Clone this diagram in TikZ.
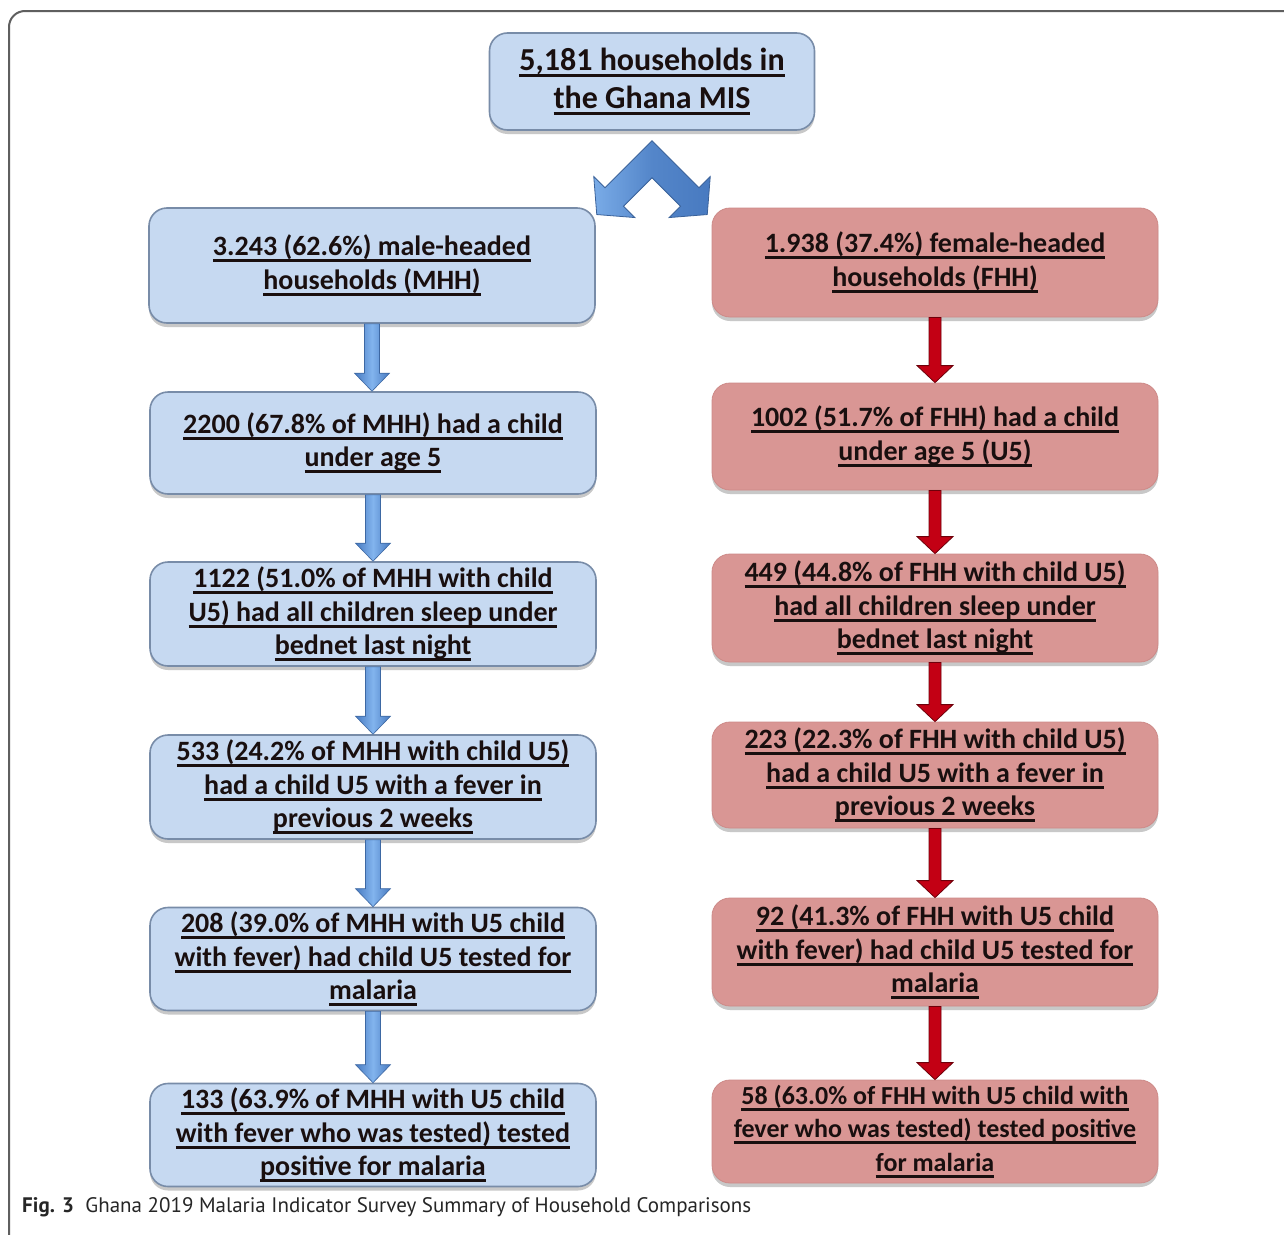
\documentclass[tikz,border=0pt]{standalone}
\usepackage{fontspec}
\setmainfont{Carlito}
\newfontfamily\capfont{PT Sans}
\usetikzlibrary{calc,shadows}
\definecolor{bfill}{RGB}{198,217,241}
\definecolor{bdraw}{RGB}{120,140,168}
\definecolor{rfill}{RGB}{217,150,148}
\definecolor{rdraw}{RGB}{205,138,136}
\definecolor{txt}{RGB}{25,15,15}
\definecolor{barrowA}{RGB}{72,122,192}
\definecolor{barrowB}{RGB}{130,180,238}
\definecolor{rarrow}{RGB}{195,0,20}
\definecolor{rarrowD}{RGB}{110,0,10}
\definecolor{framecol}{RGB}{95,95,95}
\newcommand\uln[1]{\setbox0\hbox{#1}\rlap{\vrule width\wd0 height -3.5pt depth 6.5pt}\box0}
\newcommand\fatarrow[6]{%
  \path[#6] let \p1=(#1.south), \p2=(#2.north) in
  (\x1-#3,\y1) -- (\x1+#3,\y1) -- (\x1+#3,\y2+#5) -- (\x1+#4,\y2+#5) -- (\x1,\y2)
  -- (\x1-#4,\y2+#5) -- (\x1-#3,\y2+#5) -- cycle;}
\tikzset{
  boxtext/.style={font=\bfseries\fontsize{28}{33.5}\selectfont, text=txt, align=center,
    rounded corners=18pt, inner sep=0pt, minimum width=446pt},
  bluebox/.style={boxtext, fill=bfill, draw=bdraw, line width=1.6pt,
    drop shadow={shadow xshift=0pt, shadow yshift=-4pt, opacity=0.3, fill=black!70}},
  redbox/.style={boxtext, fill=rfill, draw=rdraw, line width=0.8pt,
    drop shadow={shadow xshift=0pt, shadow yshift=-4pt, opacity=0.3, fill=black!70}},
  bluearrow/.style={left color=barrowA, right color=barrowA, middle color=barrowB,
    draw=barrowA!85!black, line width=0.6pt},
  redarrow/.style={fill=rarrow, draw=rarrowD, line width=0.8pt},
}
\begin{document}
\begin{tikzpicture}[x=1pt,y=-1pt]
\useasboundingbox (0,0) rectangle (1284,1234);
\fill[white] (0,0) rectangle (1284,1234);
\draw[framecol, line width=2pt, rounded corners=16pt] (1300,11) -- (9,11) -- (9,1250);

\node[bluebox, font=\bfseries\fontsize{32}{38}\selectfont, minimum width=325pt, minimum height=97pt]
  (top) at (652,81.5) {\uln{5,181 households in}\\\uln{the Ghana MIS}};

\node[bluebox, minimum height=115pt] (b1) at (372,265.5)
  {\uln{3.243 (62.6\%) male-headed}\\\uln{households (MHH)}};
\node[bluebox, minimum height=102pt] (b2) at (373,443)
  {\uln{2200 (67.8\% of MHH) had a child}\\\uln{under age 5}};
\node[bluebox, minimum height=104pt] (b3) at (373,614)
  {\uln{1122 (51.0\% of MHH with child}\\\uln{U5) had all children sleep under}\\\uln{bednet last night}};
\node[bluebox, minimum height=104pt] (b4) at (373,787)
  {\uln{533 (24.2\% of MHH with child U5)}\\\uln{had a child U5 with a fever in}\\\uln{previous 2 weeks}};
\node[bluebox, minimum height=103pt] (b5) at (373,959)
  {\uln{208 (39.0\% of MHH with U5 child}\\\uln{with fever) had child U5 tested for}\\\uln{malaria}};
\node[bluebox, minimum height=103pt] (b6) at (373,1135)
  {\uln{133 (63.9\% of MHH with U5 child}\\\uln{with fever who was tested) tested}\\\uln{positive for malaria}};

\node[redbox, minimum height=109pt] (r1) at (935,262.5)
  {\uln{1.938 (37.4\%) female-headed}\\\uln{households (FHH)}};
\node[redbox, minimum height=107pt] (r2) at (935,436.5)
  {\uln{1002 (51.7\% of FHH) had a child}\\\uln{under age 5 (U5)}};
\node[redbox, minimum height=108pt] (r3) at (935,608)
  {\uln{449 (44.8\% of FHH with child U5)}\\\uln{had all children sleep under}\\\uln{bednet last night}};
\node[redbox, minimum height=106pt] (r4) at (935,775)
  {\uln{223 (22.3\% of FHH with child U5)}\\\uln{had a child U5 with a fever in}\\\uln{previous 2 weeks}};
\node[redbox, minimum height=108pt] (r5) at (935,952)
  {\uln{92 (41.3\% of FHH with U5 child}\\\uln{with fever) had child U5 tested for}\\\uln{malaria}};
\node[redbox, minimum height=103pt, font=\bfseries\fontsize{26}{33.5}\selectfont] (r6) at (935,1131.5)
  {\uln{58 (63.0\% of FHH with U5 child with}\\\uln{fever who was tested) tested positive}\\\uln{for malaria}};

% split arrow from the top box
\begin{scope}[shift={(top.south)}]
\path[left color=barrowB!85!barrowA, right color=barrowA, middle color=barrowA!80!barrowB, draw=barrowA!80!black, line width=0.8pt]
  (0,10) -- (-47,57) -- (-58.25,45.75) -- (-55.25,83.75) -- (-17.25,86.75) -- (-28.5,75.5)
  -- (0,47) -- (28.5,75.5) -- (17.25,86.75) -- (55.25,83.75) -- (58.25,45.75) -- (47,57) -- cycle;
\end{scope}

\fatarrow{b1}{b2}{7.5pt}{17.5pt}{18pt}{bluearrow}
\fatarrow{b2}{b3}{7.5pt}{17.5pt}{18pt}{bluearrow}
\fatarrow{b3}{b4}{7.5pt}{17.5pt}{18pt}{bluearrow}
\fatarrow{b4}{b5}{7.5pt}{17.5pt}{18pt}{bluearrow}
\fatarrow{b5}{b6}{7.5pt}{17.5pt}{18pt}{bluearrow}

\fatarrow{r1}{r2}{6pt}{18pt}{17pt}{redarrow}
\fatarrow{r2}{r3}{6pt}{18pt}{17pt}{redarrow}
\fatarrow{r3}{r4}{6pt}{18pt}{17pt}{redarrow}
\fatarrow{r4}{r5}{6pt}{18pt}{17pt}{redarrow}
\fatarrow{r5}{r6}{6pt}{18pt}{17pt}{redarrow}

\node[anchor=base west, inner sep=0pt, font=\capfont\fontsize{21}{24}\selectfont, text=black!85]
  (cap) at (22,1212) {{\bfseries Fig. 3}\hspace{0.55em}Ghana 2019 Malaria Indicator Survey Summary of Household Comparisons};
\end{tikzpicture}
\end{document}
